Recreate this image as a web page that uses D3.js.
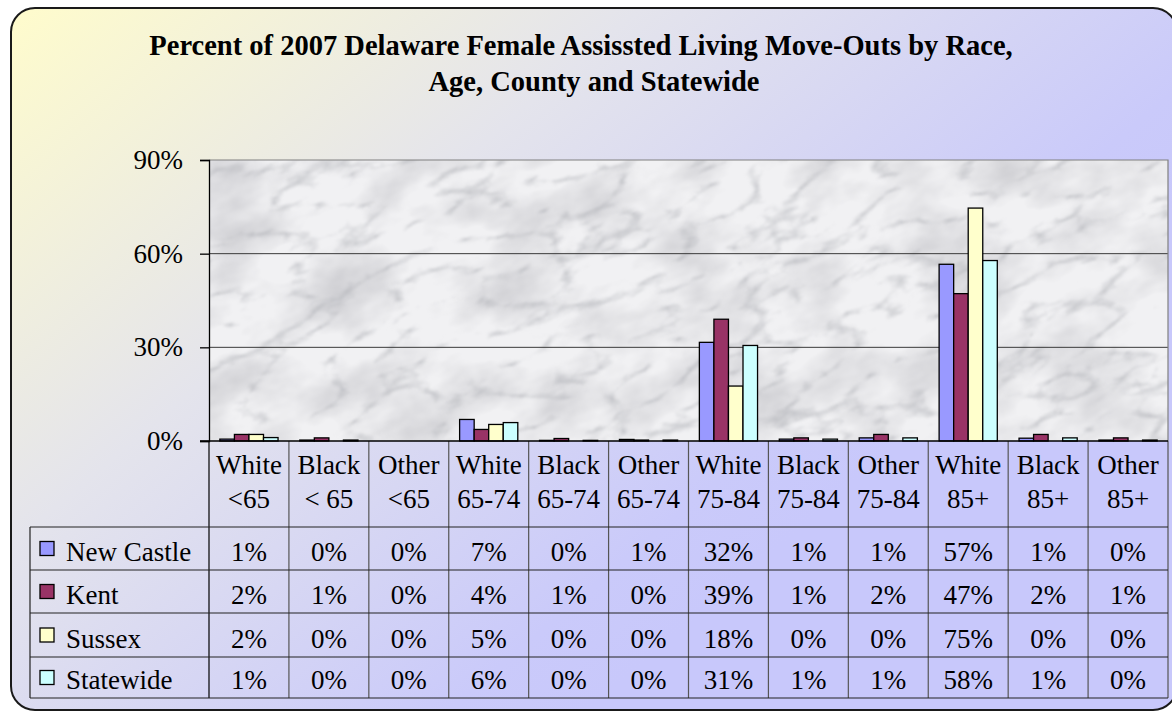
<!DOCTYPE html>
<html>
<head>
<meta charset="utf-8">
<script src="https://cdn.jsdelivr.net/npm/d3@7"></script>
<style>
  html, body { margin: 0; padding: 0; background: #fff; }
  svg { display: block; }
  text { font-family: "Liberation Serif", "Times New Roman", serif; fill: #000; }
</style>
</head>
<body>
<div id="chart"></div>
<script>
// Percent of 2007 Delaware female assisted living move-outs, grouped bars + data table.

// --- data (bar heights, table shows them rounded) ---
const races = ["White", "Black", "Other", "White", "Black", "Other", "White", "Black", "Other", "White", "Black", "Other"];
const ages = ["<65", "< 65", "<65", "65-74", "65-74", "65-74", "75-84", "75-84", "75-84", "85+", "85+", "85+"];
const seriesNames = ["New Castle", "Kent", "Sussex", "Statewide"];
const newCastle = [0.6, 0.3, 0, 6.9, 0.2, 0.5, 31.6, 0.6, 1.0, 56.6, 0.9, 0.3];
const kent = [2.1, 1.0, 0, 3.7, 0.8, 0.3, 39.0, 1.0, 2.1, 47.2, 2.1, 1.0];
const sussex = [2.1, 0, 0, 5.3, 0, 0, 17.6, 0, 0, 74.6, 0, 0];
const statewide = [1.1, 0.3, 0, 5.9, 0.2, 0.3, 30.6, 0.6, 1.0, 57.8, 1.0, 0.3];
const yTicks = [0, 30, 60, 90];

const seriesValues = [newCastle, kent, sussex, statewide];
const colors = ["#9999ff", "#993366", "#ffffcc", "#ccffff"];

const W = 1172, H = 713;
const plot = { left: 209, right: 1168, top: 160, bottom: 441 };
const table = { left: 30, headBottom: 527, rowH: [43, 43, 44, 41] };

const svg = d3.select("#chart").append("svg").attr("width", W).attr("height", H);
const defs = svg.append("defs");

// chart area gradient: pale yellow top-left -> lavender bottom-right
const grad = defs.append("linearGradient").attr("id", "bg")
  .attr("gradientUnits", "userSpaceOnUse")
  .attr("x1", 10).attr("y1", 8).attr("x2", 600).attr("y2", 700);
grad.append("stop").attr("offset", 0).attr("stop-color", "#fffccc");
grad.append("stop").attr("offset", 0.45).attr("stop-color", "#e4e4ec");
grad.append("stop").attr("offset", 0.9).attr("stop-color", "#cacafa");
grad.append("stop").attr("offset", 1).attr("stop-color", "#c8c8fb");

// marble texture for the plot area: soft cloudy patches + thin veins
const marble = defs.append("filter").attr("id", "marble")
  .attr("x", "0%").attr("y", "0%").attr("width", "100%").attr("height", "100%");
marble.append("feTurbulence").attr("type", "fractalNoise")
  .attr("baseFrequency", "0.012 0.02").attr("numOctaves", 4).attr("seed", 4).attr("result", "n");
marble.append("feColorMatrix").attr("in", "n").attr("type", "matrix")
  .attr("values", "0 0 0 0 0.55  0 0 0 0 0.55  0 0 0 0 0.58  1.5 0 0 0 -0.6").attr("result", "clouds");
marble.append("feTurbulence").attr("type", "turbulence")
  .attr("baseFrequency", "0.012 0.03").attr("numOctaves", 5).attr("seed", 9).attr("result", "t");
marble.append("feColorMatrix").attr("in", "t").attr("type", "matrix")
  .attr("values", "0 0 0 0 0.42  0 0 0 0 0.43  0 0 0 0 0.46  -2.6 0 0 0 0.62").attr("result", "veins");
marble.append("feGaussianBlur").attr("in", "veins").attr("stdDeviation", 0.8).attr("result", "veinsB");
const mm = marble.append("feMerge");
mm.append("feMergeNode").attr("in", "clouds");
mm.append("feMergeNode").attr("in", "veinsB");

defs.append("clipPath").attr("id", "plotClip").append("rect")
  .attr("x", plot.left).attr("y", plot.top)
  .attr("width", plot.right - plot.left).attr("height", plot.bottom - plot.top);

// outer rounded frame
svg.append("rect").attr("x", 11).attr("y", 8).attr("width", 1166).attr("height", 702)
  .attr("rx", 24).attr("fill", "url(#bg)").attr("stroke", "#1a1a1a").attr("stroke-width", 2);

// title
const title = svg.append("text").attr("text-anchor", "middle")
  .attr("font-size", 28.5).attr("font-weight", "bold");
title.append("tspan").attr("x", 581).attr("y", 55)
  .text("Percent of 2007 Delaware Female Assissted Living Move-Outs by Race,");
title.append("tspan").attr("x", 594).attr("y", 91).text("Age, County and Statewide");

// scales
const x0 = d3.scaleBand().domain(d3.range(races.length)).range([plot.left, plot.right]);
const x1 = d3.scaleBand().domain(d3.range(seriesNames.length))
  .range([x0.bandwidth() * 0.136, x0.bandwidth() * 0.864]);
const y = d3.scaleLinear().domain([0, 90]).range([plot.bottom, plot.top]);

// plot background
const bgG = svg.append("g").attr("clip-path", "url(#plotClip)");
bgG.append("rect").attr("x", plot.left).attr("y", plot.top)
  .attr("width", plot.right - plot.left).attr("height", plot.bottom - plot.top)
  .attr("fill", "#f1f1f3");
bgG.append("rect").attr("x", 0).attr("y", -400).attr("width", 1500).attr("height", 1200)
  .attr("transform", "rotate(-20, 690, 300)").attr("filter", "url(#marble)");

// gridlines
svg.append("g").selectAll("line").data(yTicks.filter(d => d > 0 && d < 90)).join("line")
  .attr("x1", plot.left).attr("x2", plot.right)
  .attr("y1", d => y(d)).attr("y2", d => y(d))
  .attr("stroke", "#3a3a3a").attr("stroke-width", 1);

// plot frame (top + right grey)
svg.append("path")
  .attr("d", `M${plot.left},${y(90)}H${plot.right}V${plot.bottom}`)
  .attr("fill", "none").attr("stroke", "#808080").attr("stroke-width", 1.2);

// bars
const groups = svg.append("g").selectAll("g").data(races).join("g")
  .attr("transform", (d, i) => `translate(${x0(i)},0)`);
groups.selectAll("rect")
  .data((d, i) => seriesValues.map((s, k) => ({ k, v: s[i] })))
  .join("rect")
  .attr("x", d => x1(d.k)).attr("width", x1.bandwidth())
  .attr("y", d => y(d.v)).attr("height", d => y(0) - y(d.v))
  .attr("fill", d => colors[d.k]).attr("stroke", "#000").attr("stroke-width", 1.3);

// y axis
const yAxis = svg.append("g").attr("transform", `translate(${plot.left},0)`)
  .call(d3.axisLeft(y).tickValues(yTicks).tickSize(9).tickPadding(17).tickFormat(d => d + "%"));
yAxis.select(".domain").attr("stroke", "#000").attr("stroke-width", 1.3);
yAxis.selectAll(".tick line").attr("stroke", "#000").attr("stroke-width", 1.3);
yAxis.selectAll(".tick text").attr("font-size", 27).attr("fill", "#000");

// --- data table under the axis ---
const rowTops = [table.headBottom];
table.rowH.forEach(h => rowTops.push(rowTops[rowTops.length - 1] + h));
const tableBottom = rowTops[rowTops.length - 1];
const tg = svg.append("g");

// vertical lines between categories
tg.selectAll("line.v").data(d3.range(races.length + 1)).join("line").attr("class", "v")
  .attr("x1", i => i < races.length ? x0(i) : plot.right)
  .attr("x2", i => i < races.length ? x0(i) : plot.right)
  .attr("y1", plot.bottom).attr("y2", tableBottom)
  .attr("stroke", i => i === 0 ? "#000" : "#555").attr("stroke-width", 1.2);
// horizontal row lines
tg.selectAll("line.h").data(rowTops).join("line").attr("class", "h")
  .attr("x1", table.left).attr("x2", plot.right)
  .attr("y1", d => d).attr("y2", d => d)
  .attr("stroke", "#222").attr("stroke-width", 1.2);
tg.append("line").attr("x1", table.left).attr("x2", table.left)
  .attr("y1", table.headBottom).attr("y2", tableBottom)
  .attr("stroke", "#222").attr("stroke-width", 1.2);
// x axis baseline
svg.append("line").attr("x1", plot.left - 9).attr("x2", plot.right)
  .attr("y1", plot.bottom).attr("y2", plot.bottom)
  .attr("stroke", "#000").attr("stroke-width", 1.3);

// category headers
const head = tg.selectAll("text.head").data(races).join("text").attr("class", "head")
  .attr("text-anchor", "middle").attr("font-size", 27);
head.append("tspan").attr("x", (d, i) => x0(i) + x0.bandwidth() / 2).attr("y", 474).text(d => d);
head.append("tspan").attr("x", (d, i) => x0(i) + x0.bandwidth() / 2).attr("y", 508).text((d, i) => ages[i]);

// legend keys + values
seriesNames.forEach((name, k) => {
  const base = rowTops[k + 1] - 9.5;
  const mid = (rowTops[k] + rowTops[k + 1]) / 2;
  tg.append("rect").attr("x", 40).attr("y", mid - 7).attr("width", 14).attr("height", 14)
    .attr("fill", colors[k]).attr("stroke", "#000").attr("stroke-width", 1.3);
  tg.append("text").attr("x", 66).attr("y", base).attr("font-size", 27).text(name);
  tg.selectAll(null).data(seriesValues[k]).join("text")
    .attr("x", (d, i) => x0(i) + x0.bandwidth() / 2).attr("y", base)
    .attr("text-anchor", "middle").attr("font-size", 27)
    .text(d => Math.round(d) + "%");
});
</script>
</body>
</html>
